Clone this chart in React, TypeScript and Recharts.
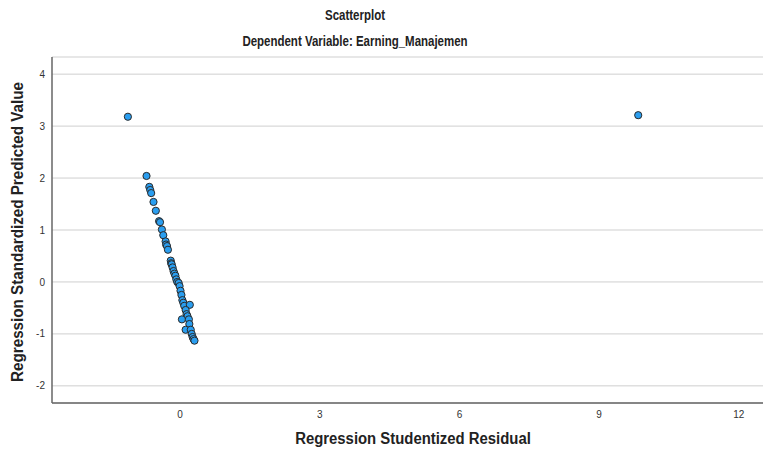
import { ScatterChart, Scatter, XAxis, YAxis, CartesianGrid } from 'recharts'

// Studentized residual (x) vs standardized predicted value (y).
const residuals = [
  -1.12, 9.84,
  -0.72, -0.66, -0.64, -0.62, -0.57, -0.52, -0.45, -0.43, -0.39, -0.36, -0.31, -0.3,
  -0.28, -0.26, -0.2, -0.19, -0.18, -0.16, -0.14, -0.12, -0.1, -0.08, -0.06, -0.03,
  -0.01, 0.01, 0.03, 0.05, 0.07, 0.09, 0.21, 0.12, 0.14, 0.16, 0.04, 0.19, 0.2, 0.12,
  0.23, 0.25, 0.27, 0.29, 0.31,
]
const predicted = [
  3.18, 3.21,
  2.04, 1.83, 1.77, 1.71, 1.54, 1.37, 1.17, 1.15, 1.01, 0.9, 0.78, 0.72,
  0.69, 0.62, 0.41, 0.36, 0.34, 0.28, 0.21, 0.16, 0.12, 0.05, 0.0, -0.02,
  -0.08, -0.17, -0.25, -0.35, -0.4, -0.46, -0.44, -0.54, -0.62, -0.66, -0.72, -0.72, -0.81, -0.92,
  -0.92, -1.0, -1.06, -1.1, -1.13,
]
const xTicks = [0, 3, 6, 9, 12]
const yTicks = [-2, -1, 0, 1, 2, 3, 4]

const points = residuals.map((x, i) => ({ x, y: predicted[i] }))

const font = '"Liberation Sans", Arial, sans-serif'
const tickStyle = { fontSize: 10, fill: '#333', fontFamily: font }

function Dot(props: any) {
  const { cx, cy } = props
  return <circle cx={cx} cy={cy} r={3.6} fill="#2a9ef0" stroke="#2a2a2a" strokeWidth={1} />
}

// SPSS uses a condensed bold face; squeeze Liberation Sans horizontally to match
const titleStyle = {
  position: 'absolute' as const,
  left: 0,
  width: 710,
  textAlign: 'center' as const,
  fontWeight: 'bold' as const,
  fontSize: 14,
  color: '#222',
  transform: 'scaleX(0.82)',
}

export default function App() {
  return (
    <div style={{ position: 'absolute', left: 0, top: 0, width: 763, height: 449, background: '#fff', fontFamily: font }}>
      <div style={{ ...titleStyle, top: 7 }}>Scatterplot</div>
      <div style={{ ...titleStyle, top: 33 }}>Dependent Variable: Earning_Manajemen</div>
      <ScatterChart width={763} height={449} margin={{ top: 57, right: 0, bottom: 0, left: 0 }}>
        <CartesianGrid horizontal vertical={false} stroke="#cfcfcf" strokeWidth={1} />
        <XAxis
          type="number"
          dataKey="x"
          domain={[-2.75, 12.52]}
          ticks={xTicks}
          allowDataOverflow
          height={46}
          tickLine={false}
          tickSize={6}
          axisLine={{ stroke: '#666', strokeWidth: 1.5 }}
          tick={tickStyle}
        />
        <YAxis
          type="number"
          dataKey="y"
          domain={[-2.33, 4.33]}
          ticks={yTicks}
          allowDataOverflow
          width={52}
          tickLine={false}
          tickSize={5}
          axisLine={{ stroke: '#666', strokeWidth: 1.5 }}
          tick={tickStyle}
        />
        <Scatter data={points} shape={<Dot />} isAnimationActive={false} />
      </ScatterChart>
      <div style={{ ...titleStyle, top: 430, width: 826, fontSize: 16, transform: 'scaleX(0.93)' }}>
        Regression Studentized Residual
      </div>
      <div
        style={{
          ...titleStyle,
          width: 'auto',
          fontSize: 16,
          left: 18,
          top: 232,
          transform: 'translate(-50%, -50%) rotate(-90deg) scaleX(0.95)',
          whiteSpace: 'nowrap',
        }}
      >
        Regression Standardized Predicted Value
      </div>
    </div>
  )
}
